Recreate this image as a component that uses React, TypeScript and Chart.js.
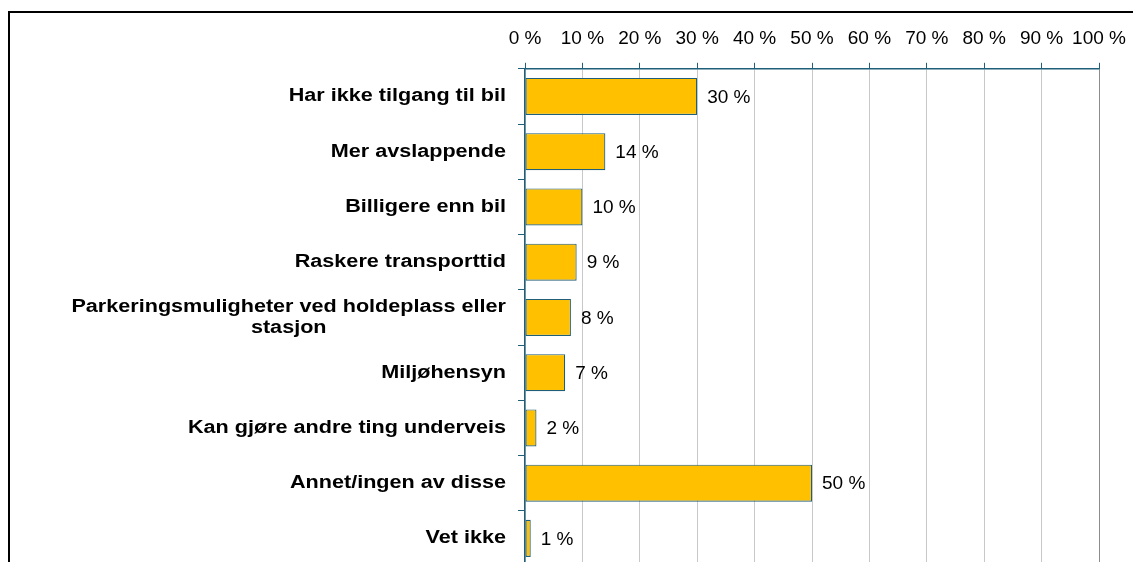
import React, { useEffect, useRef } from "react";
import { Chart, registerables } from "chart.js";

Chart.register(...registerables);

const categories: (string | string[])[] = [
  "Har ikke tilgang til bil",
  "Mer avslappende",
  "Billigere enn bil",
  "Raskere transporttid",
  ["Parkeringsmuligheter ved holdeplass eller", "stasjon"],
  "Miljøhensyn",
  "Kan gjøre andre ting underveis",
  "Annet/ingen av disse",
  "Vet ikke",
];
const values: number[] = [30, 14, 10, 9, 8, 7, 2, 50, 1];
const tickValues: number[] = [0, 10, 20, 30, 40, 50, 60, 70, 80, 90, 100];

const AXIS = "#1f5f7a";
const FONT = "'Liberation Sans', Arial, sans-serif";

const labelPlugin = {
  id: "customLabels",
  afterDraw(chart: any) {
    const ctx = chart.ctx as CanvasRenderingContext2D;
    const yScale = chart.scales.y;
    const meta = chart.getDatasetMeta(0);
    ctx.save();
    ctx.fillStyle = "#000";
    ctx.font = `bold 18px ${FONT}`;
    ctx.textBaseline = "middle";
    const sx = 1.2;
    const xRight = chart.chartArea.left - 19;
    categories.forEach((lab, i) => {
      const y = yScale.getPixelForValue(i);
      const lines = Array.isArray(lab) ? lab : [lab];
      ctx.save();
      ctx.translate(xRight, y);
      ctx.scale(sx, 1);
      if (lines.length === 1) {
        ctx.textAlign = "right";
        ctx.fillText(lines[0], 0, 0);
      } else {
        const w = Math.max(...lines.map((l) => ctx.measureText(l).width));
        ctx.textAlign = "center";
        const lh = 21;
        const y0 = -((lines.length - 1) * lh) / 2;
        lines.forEach((l, k) => ctx.fillText(l, -w / 2, y0 + k * lh));
      }
      ctx.restore();
    });
    ctx.font = `19px ${FONT}`;
    ctx.textAlign = "left";
    meta.data.forEach((el: any, i: number) => {
      ctx.fillText(`${values[i]} %`, el.x + 10, el.y + 1);
    });
    ctx.restore();
  },
};

export default function App() {
  const ref = useRef<HTMLCanvasElement>(null);
  useEffect(() => {
    if (!ref.current) return;
    const chart = new Chart(ref.current, {
      type: "bar",
      data: {
        labels: categories.map((c) => (Array.isArray(c) ? c.join(" ") : c)),
        datasets: [
          {
            data: values,
            backgroundColor: "#ffc000",
            borderColor: AXIS,
            borderWidth: 1.2,
            borderSkipped: false,
            categoryPercentage: 1,
            barPercentage: 0.67,
          },
        ],
      },
      options: {
        indexAxis: "y",
        animation: false,
        responsive: false,
        devicePixelRatio: 1,
        layout: { padding: { left: 518, right: 34, top: 14, bottom: 54 } },
        plugins: { legend: { display: false }, tooltip: { enabled: false } },
        scales: {
          x: {
            position: "top",
            min: 0,
            max: 100,
            afterBuildTicks: (scale: any) => {
              scale.ticks = tickValues.map((v) => ({ value: v }));
            },
            afterFit: (scale: any) => {
              scale.paddingRight = 0;
              scale.paddingLeft = 0;
            },
            ticks: {
              callback: (v: any) => `${v} %`,
              font: { family: FONT, size: 19 },
              color: "#000",
              padding: 13,
              maxRotation: 0,
              autoSkip: false,
            },
            grid: {
              color: (c: any) => (c.tick && c.tick.value === 100 ? "#8c8c8c" : "#c8c8c8"),
              tickColor: AXIS,
              tickLength: 6,
              lineWidth: 1,
            },
            border: { color: AXIS, width: 1.5 },
          },
          y: {
            type: "category",
            offset: true,
            ticks: { display: false },
            grid: {
              drawOnChartArea: false,
              offset: true,
              tickLength: 7,
              color: AXIS,
              tickColor: AXIS,
            },
            border: { color: AXIS, width: 1.5 },
          },
        },
      },
      plugins: [labelPlugin],
    });
    return () => chart.destroy();
  }, []);

  return (
    <div
      style={{
        position: "fixed",
        left: 0,
        top: 0,
        width: 1133,
        height: 562,
        overflow: "hidden",
        background: "#fff",
      }}
    >
      <div
        style={{
          position: "absolute",
          left: 8,
          top: 11,
          width: 1300,
          height: 800,
          border: "2px solid #000",
          boxSizing: "border-box",
        }}
      />
      <canvas
        ref={ref}
        width={1133}
        height={620}
        style={{ position: "absolute", left: 0, top: 0, display: "block" }}
      />
    </div>
  );
}
